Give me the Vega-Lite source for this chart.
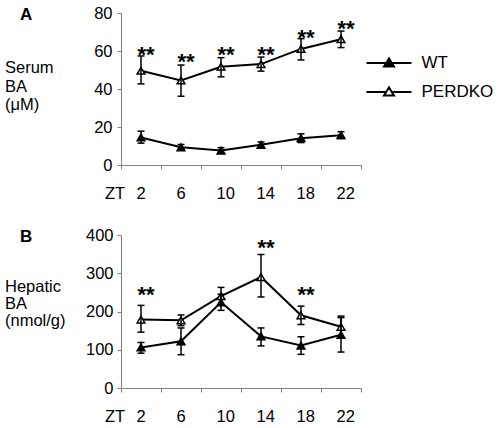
{
  "$schema": "https://vega.github.io/schema/vega-lite/v6.json",
  "background": "white",
  "padding": {"left": 4, "top": 5, "right": 0, "bottom": 0},
  "bounds": "flush",
  "spacing": 70,
  "config": {
    "view": {"stroke": null},
    "font": "Liberation Sans",
    "axis": {
      "grid": false,
      "domainColor": "#808080",
      "tickColor": "#808080",
      "labelColor": "black",
      "labelFont": "Liberation Sans",
      "labelFontSize": 16.5,
      "labelOverlap": false,
      "titleFont": "Liberation Sans",
      "titleFontSize": 16.5,
      "titleFontWeight": "normal",
      "titleColor": "black",
      "tickSize": 4
    },
    "title": {"font": "Liberation Sans", "color": "black"}
  },
  "datasets": {
    "serum": [
      {"zt": 2, "series": "WT", "mean": 14.5, "lo": 11.5, "hi": 17.8},
      {"zt": 6, "series": "WT", "mean": 9.3, "lo": 7.8, "hi": 10.8},
      {"zt": 10, "series": "WT", "mean": 7.6, "lo": 6.1, "hi": 9.1},
      {"zt": 14, "series": "WT", "mean": 10.6, "lo": 9.1, "hi": 12.1},
      {"zt": 18, "series": "WT", "mean": 14.1, "lo": 11.8, "hi": 16.4},
      {"zt": 22, "series": "WT", "mean": 15.7, "lo": 13.9, "hi": 17.5},
      {"zt": 2, "series": "PERDKO", "mean": 49.6, "lo": 42.7, "hi": 57.4},
      {"zt": 6, "series": "PERDKO", "mean": 44.5, "lo": 36.2, "hi": 52.6},
      {"zt": 10, "series": "PERDKO", "mean": 51.7, "lo": 46.4, "hi": 56.5},
      {"zt": 14, "series": "PERDKO", "mean": 53.1, "lo": 49.4, "hi": 56.8},
      {"zt": 18, "series": "PERDKO", "mean": 61.1, "lo": 55.3, "hi": 66.5},
      {"zt": 22, "series": "PERDKO", "mean": 66.2, "lo": 61.8, "hi": 70.5}
    ],
    "serumStars": [
      {"zt": 2, "y": 60.6, "label": "**"},
      {"zt": 6, "y": 57, "label": "**"},
      {"zt": 10, "y": 60.6, "label": "**"},
      {"zt": 14, "y": 60.6, "label": "**"},
      {"zt": 18, "y": 69.4, "label": "**"},
      {"zt": 22, "y": 74.3, "label": "**"}
    ],
    "hepatic": [
      {"zt": 2, "series": "WT", "mean": 106, "lo": 91, "hi": 119},
      {"zt": 6, "series": "WT", "mean": 122, "lo": 87, "hi": 157},
      {"zt": 10, "series": "WT", "mean": 224, "lo": 203, "hi": 245},
      {"zt": 14, "series": "WT", "mean": 135, "lo": 110, "hi": 157},
      {"zt": 18, "series": "WT", "mean": 111, "lo": 88, "hi": 134},
      {"zt": 22, "series": "WT", "mean": 139, "lo": 94, "hi": 184},
      {"zt": 2, "series": "PERDKO", "mean": 179, "lo": 146, "hi": 216},
      {"zt": 6, "series": "PERDKO", "mean": 177, "lo": 163, "hi": 191},
      {"zt": 10, "series": "PERDKO", "mean": 240, "lo": 217, "hi": 263},
      {"zt": 14, "series": "PERDKO", "mean": 290, "lo": 238, "hi": 349},
      {"zt": 18, "series": "PERDKO", "mean": 190, "lo": 166, "hi": 214},
      {"zt": 22, "series": "PERDKO", "mean": 160, "lo": 131, "hi": 188}
    ],
    "hepaticStars": [
      {"zt": 2, "y": 256, "label": "**"},
      {"zt": 14, "y": 380, "label": "**"},
      {"zt": 18, "y": 256, "label": "**"}
    ]
  },
  "vconcat": [
    {
      "width": 240,
      "height": 152,
      "title": {"text": "A", "anchor": "start", "frame": "group", "dx": -101, "dy": 36, "fontSize": 17, "fontWeight": "bold", "baseline": "alphabetic"},
      "layer": [
        {
          "data": {"name": "serum"},
          "mark": {"type": "line", "color": "black", "strokeWidth": 2},
          "encoding": {
            "x": {"field": "zt", "type": "ordinal", "scale": {"domain": [2, 6, 10, 14, 18, 22], "paddingInner": 0, "paddingOuter": 0},
              "axis": {"title": "ZT", "titleAlign": "left", "titleAnchor": "start", "titleBaseline": "alphabetic", "titleX": -16.5, "titleY": 33, "labelAngle": 0, "labelAlign": "left", "labelOffset": -5, "labelBaseline": "alphabetic", "labelPadding": 29, "tickBand": "extent"}},
            "y": {"field": "mean", "type": "quantitative", "scale": {"domain": [0, 80], "nice": false},
              "axis": {"values": [0, 20, 40, 60, 80], "tickCount": 5, "labelOverlap": false, "title": ["Serum", "BA", "(μM)"], "titleAngle": 0, "titleAlign": "left", "titleBaseline": "alphabetic", "titleX": -116.5, "titleY": 59.5, "titleLineHeight": 18.5, "labelPadding": 5}},
            "detail": {"field": "series"}
          }
        },
        {
          "data": {"name": "serum"},
          "mark": {"type": "point", "shape": "triangle-up", "filled": true, "stroke": "black", "strokeWidth": 1.5, "size": 60, "opacity": 1},
          "encoding": {
            "x": {"field": "zt", "type": "ordinal"},
            "y": {"field": "mean", "type": "quantitative"},
            "fill": {"field": "series", "type": "nominal", "scale": {"domain": ["WT", "PERDKO"], "range": ["black", "white"]},
              "legend": {"orient": "none", "legendX": 244.5, "legendY": 37, "title": null, "symbolType": "M-1,0L-0.12,0M0.12,0L1,0M-0.22,0.16L0,-0.2L0.22,0.16Z", "symbolSize": 2025, "symbolStrokeWidth": 2, "symbolStrokeColor": "black", "symbolOpacity": 1, "clipHeight": 26, "rowPadding": 3, "labelOffset": 9, "labelFontSize": 17, "labelFont": "Liberation Sans", "labelColor": "black", "padding": 0}}
          }
        },
        {
          "data": {"name": "serum"},
          "mark": {"type": "rule", "color": "black", "strokeWidth": 1.5},
          "encoding": {
            "x": {"field": "zt", "type": "ordinal"},
            "y": {"field": "lo", "type": "quantitative"},
            "y2": {"field": "hi"}
          }
        },
        {
          "data": {"name": "serum"},
          "mark": {"type": "tick", "orient": "horizontal", "color": "black", "size": 7, "thickness": 1.5, "opacity": 1},
          "encoding": {
            "x": {"field": "zt", "type": "ordinal"},
            "y": {"field": "hi", "type": "quantitative"}
          }
        },
        {
          "data": {"name": "serum"},
          "mark": {"type": "tick", "orient": "horizontal", "color": "black", "size": 7, "thickness": 1.5, "opacity": 1},
          "encoding": {
            "x": {"field": "zt", "type": "ordinal"},
            "y": {"field": "lo", "type": "quantitative"}
          }
        },
        {
          "data": {"name": "serumStars"},
          "mark": {"type": "text", "font": "Liberation Sans", "fontSize": 22, "fontWeight": "bold", "color": "black", "dx": 5, "dy": 5, "baseline": "middle"},
          "encoding": {
            "x": {"field": "zt", "type": "ordinal"},
            "y": {"field": "y", "type": "quantitative"},
            "text": {"field": "label"}
          }
        }
      ]
    },
    {
      "width": 240,
      "height": 153,
      "title": {"text": "B", "anchor": "start", "frame": "group", "dx": -101, "dy": 36, "fontSize": 17, "fontWeight": "bold", "baseline": "alphabetic"},
      "layer": [
        {
          "data": {"name": "hepatic"},
          "mark": {"type": "line", "color": "black", "strokeWidth": 2},
          "encoding": {
            "x": {"field": "zt", "type": "ordinal", "scale": {"domain": [2, 6, 10, 14, 18, 22], "paddingInner": 0, "paddingOuter": 0},
              "axis": {"title": "ZT", "titleAlign": "left", "titleAnchor": "start", "titleBaseline": "alphabetic", "titleX": -16.5, "titleY": 33, "labelAngle": 0, "labelAlign": "left", "labelOffset": -5, "labelBaseline": "alphabetic", "labelPadding": 29, "tickBand": "extent"}},
            "y": {"field": "mean", "type": "quantitative", "scale": {"domain": [0, 400], "nice": false},
              "axis": {"values": [0, 100, 200, 300, 400], "tickCount": 5, "labelOverlap": false, "title": ["Hepatic", "BA", "(nmol/g)"], "titleAngle": 0, "titleAlign": "left", "titleBaseline": "alphabetic", "titleX": -116.5, "titleY": 56, "titleLineHeight": 17, "labelPadding": 4}},
            "detail": {"field": "series"}
          }
        },
        {
          "data": {"name": "hepatic"},
          "mark": {"type": "point", "shape": "triangle-up", "filled": true, "stroke": "black", "strokeWidth": 1.5, "size": 60, "opacity": 1},
          "encoding": {
            "x": {"field": "zt", "type": "ordinal"},
            "y": {"field": "mean", "type": "quantitative"},
            "fill": {"field": "series", "type": "nominal", "scale": {"domain": ["WT", "PERDKO"], "range": ["black", "white"]}, "legend": null}
          }
        },
        {
          "data": {"name": "hepatic"},
          "mark": {"type": "rule", "color": "black", "strokeWidth": 1.5},
          "encoding": {
            "x": {"field": "zt", "type": "ordinal"},
            "y": {"field": "lo", "type": "quantitative"},
            "y2": {"field": "hi"}
          }
        },
        {
          "data": {"name": "hepatic"},
          "mark": {"type": "tick", "orient": "horizontal", "color": "black", "size": 7, "thickness": 1.5, "opacity": 1},
          "encoding": {
            "x": {"field": "zt", "type": "ordinal"},
            "y": {"field": "hi", "type": "quantitative"}
          }
        },
        {
          "data": {"name": "hepatic"},
          "mark": {"type": "tick", "orient": "horizontal", "color": "black", "size": 7, "thickness": 1.5, "opacity": 1},
          "encoding": {
            "x": {"field": "zt", "type": "ordinal"},
            "y": {"field": "lo", "type": "quantitative"}
          }
        },
        {
          "data": {"name": "hepaticStars"},
          "mark": {"type": "text", "font": "Liberation Sans", "fontSize": 22, "fontWeight": "bold", "color": "black", "dx": 5, "dy": 5, "baseline": "middle"},
          "encoding": {
            "x": {"field": "zt", "type": "ordinal"},
            "y": {"field": "y", "type": "quantitative"},
            "text": {"field": "label"}
          }
        }
      ]
    }
  ]
}
